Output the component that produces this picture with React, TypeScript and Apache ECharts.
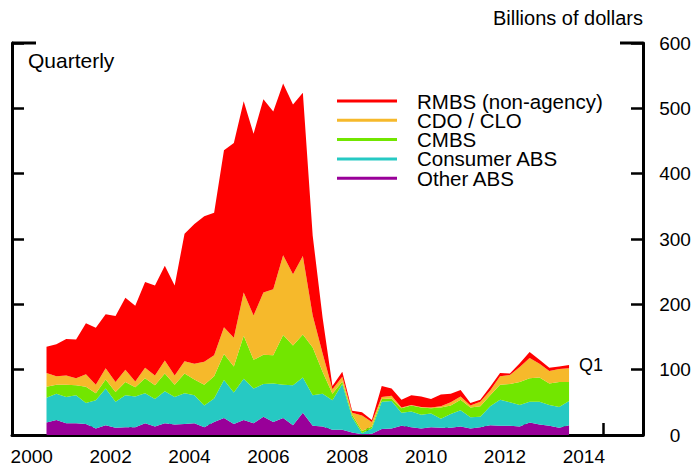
import { useEffect, useRef } from 'react';
import * as echarts from 'echarts';

const FONT = '"Liberation Sans", Arial, Helvetica, sans-serif';

// Axis spans 2000Q1..2015Q4; data run from 2000Q4 to 2014Q1 (billions of dollars)
const axisFirstYear = 2000;
const axisLastYear = 2015;
const firstYear = 2000;
const firstQuarter = 4;

const rmbs = [40, 49, 56, 59, 78, 87, 83, 101, 110, 116, 131, 138, 145, 138, 195, 214, 223, 218, 271, 298, 293, 278, 296, 272, 263, 260, 250, 122, 55, 5, 8, 3, 5, 3, 17, 11, 12, 15, 16, 13, 18, 13, 10, 4, 3, 6, 5, 2, 6, 9, 6, 5, 4, 5];
const cdo = [21, 13, 14, 11, 19, 13, 17, 15, 19, 9, 16, 15, 20, 14, 19, 24, 35, 32, 41, 44, 66, 68, 95, 101, 122, 109, 120, 49, 28, 7, 7, 3, 24, 7, 3, 4, 1, 1, 1, 1, 2, 5, 5, 3, 7, 7, 13, 14, 23, 31, 21, 19, 20, 21];
const cmbs = [17, 14, 19, 15, 25, 11, 14, 15, 20, 14, 23, 21, 27, 19, 30, 24, 32, 34, 40, 40, 66, 44, 45, 43, 76, 61, 66, 73, 34, 10, 4, 4, 3, 3, 4, 4, 7, 9, 11, 8, 17, 13, 16, 15, 16, 17, 23, 28, 35, 36, 37, 33, 38, 29];
const consumer = [38, 40, 40, 43, 32, 43, 56, 40, 49, 47, 46, 42, 49, 42, 47, 43, 33, 36, 58, 48, 63, 53, 50, 59, 51, 61, 54, 47, 50, 45, 70, 23, 2, 8, 42, 42, 20, 24, 21, 21, 14, 21, 25, 17, 16, 29, 40, 36, 33, 32, 35, 32, 32, 37];
const other = [19, 23, 18, 18, 17, 10, 15, 11, 12, 12, 18, 13, 18, 16, 17, 18, 12, 20, 26, 17, 23, 18, 28, 20, 26, 15, 34, 14, 13, 8, 8, 4, 1, 2, 9, 10, 14, 12, 10, 12, 11, 11, 13, 10, 12, 15, 14, 14, 13, 19, 16, 14, 11, 15];

const yearLabels = ['2000', '', '2002', '', '2004', '', '2006', '', '2008', '', '2010', '', '2012', '', '2014', ''];
const seriesNames = ['RMBS (non-agency)', 'CDO / CLO', 'CMBS', 'Consumer ABS', 'Other ABS'];
const colors = {
  rmbs: '#FF0000',
  cdo: '#F6B92B',
  cmbs: '#72E600',
  consumer: '#26C9C3',
  other: '#990099',
};

// Every quarter of the axis, as categories
const axisQuarters: string[] = [];
for (let y = axisFirstYear; y <= axisLastYear; y++) {
  for (let q = 1; q <= 4; q++) axisQuarters.push(`${y}Q${q}`);
}
// Quarters that carry data
const dataQuarters: string[] = [];
{
  const start = axisQuarters.indexOf(`${firstYear}Q${firstQuarter}`);
  for (let i = 0; i < rmbs.length; i++) dataQuarters.push(axisQuarters[start + i]);
}

export default function App() {
  const ref = useRef<HTMLDivElement>(null);

  useEffect(() => {
    document.body.style.margin = '0';
    if (!ref.current) return;
    const chart = echarts.init(ref.current, undefined, { renderer: 'svg' });

    const axisLineStyle = { color: '#000', width: 3 };
    const tickStyle = { color: '#000', width: 2.5 };

    const mk = (name: string, values: number[], color: string, extra: any = {}) => ({
      name,
      type: 'line',
      stack: 'total',
      xAxisIndex: 0,
      yAxisIndex: 0,
      data: values.map((v, i) => [dataQuarters[i], v]),
      symbol: 'none',
      showSymbol: false,
      lineStyle: { width: 0, color },
      itemStyle: { color },
      areaStyle: { color, opacity: 1 },
      silent: true,
      ...extra,
    });

    chart.setOption({
      animation: false,
      textStyle: { fontFamily: FONT },
      grid: { left: 12, right: 52, top: 43, bottom: 33, containLabel: false },
      xAxis: [
        {
          type: 'category', data: axisQuarters, boundaryGap: true, position: 'bottom',
          axisLine: { show: true, onZero: false, lineStyle: axisLineStyle },
          axisTick: { show: true, inside: true, length: 12, interval: 3, lineStyle: tickStyle },
          axisLabel: { show: false },
          splitLine: { show: false },
        },
        {
          type: 'category', data: yearLabels, position: 'bottom', boundaryGap: true,
          axisLine: { show: false }, axisTick: { show: false },
          axisLabel: { show: true, interval: 0, fontSize: 19, color: '#000', margin: 12, fontFamily: FONT },
          splitLine: { show: false },
        },
      ],
      yAxis: [
        {
          type: 'value', position: 'left', min: 0, max: 600, interval: 100,
          axisLine: { show: true, onZero: false, lineStyle: axisLineStyle },
          axisTick: { show: true, inside: true, length: 12, lineStyle: tickStyle },
          axisLabel: { show: false },
          splitLine: { show: false },
        },
        {
          type: 'value', position: 'right', min: 0, max: 600, interval: 100,
          axisLine: { show: true, onZero: false, lineStyle: axisLineStyle },
          axisTick: { show: true, inside: true, length: 12, lineStyle: tickStyle },
          axisLabel: { show: true, fontSize: 19, color: '#000', margin: 32, align: 'center', fontFamily: FONT },
          splitLine: { show: false },
        },
      ],
      legend: {
        data: seriesNames,
        orient: 'vertical',
        left: 337,
        top: 90.5,
        padding: 0,
        itemWidth: 60,
        itemHeight: 3,
        itemGap: -1.7,
        icon: 'rect',
        selectedMode: false,
        textStyle: { fontSize: 20.5, color: '#000', lineHeight: 19, padding: [0, 0, 0, 15], fontFamily: FONT },
      },
      graphic: [
        { type: 'text', left: 28, top: 50, style: { text: 'Quarterly', fill: '#000', font: `21px ${FONT}` } },
        { type: 'text', right: 52, top: 8, style: { text: 'Billions of dollars', fill: '#000', font: `20px ${FONT}` } },
        { type: 'line', shape: { x1: 12, y1: 43, x2: 36, y2: 43 }, style: { stroke: '#000', lineWidth: 3 } },
        { type: 'line', shape: { x1: 620, y1: 43, x2: 643, y2: 43 }, style: { stroke: '#000', lineWidth: 3 } },
      ],
      series: [
        mk(seriesNames[4], other, colors.other),
        mk(seriesNames[3], consumer, colors.consumer),
        mk(seriesNames[2], cmbs, colors.cmbs),
        mk(seriesNames[1], cdo, colors.cdo),
        mk(seriesNames[0], rmbs, colors.rmbs, {
          endLabel: { show: true, formatter: 'Q1', distance: 10, fontSize: 18, color: '#000', fontFamily: FONT },
        }),
      ],
    });

    return () => chart.dispose();
  }, []);

  return <div ref={ref} style={{ width: 695, height: 468 }} />;
}
